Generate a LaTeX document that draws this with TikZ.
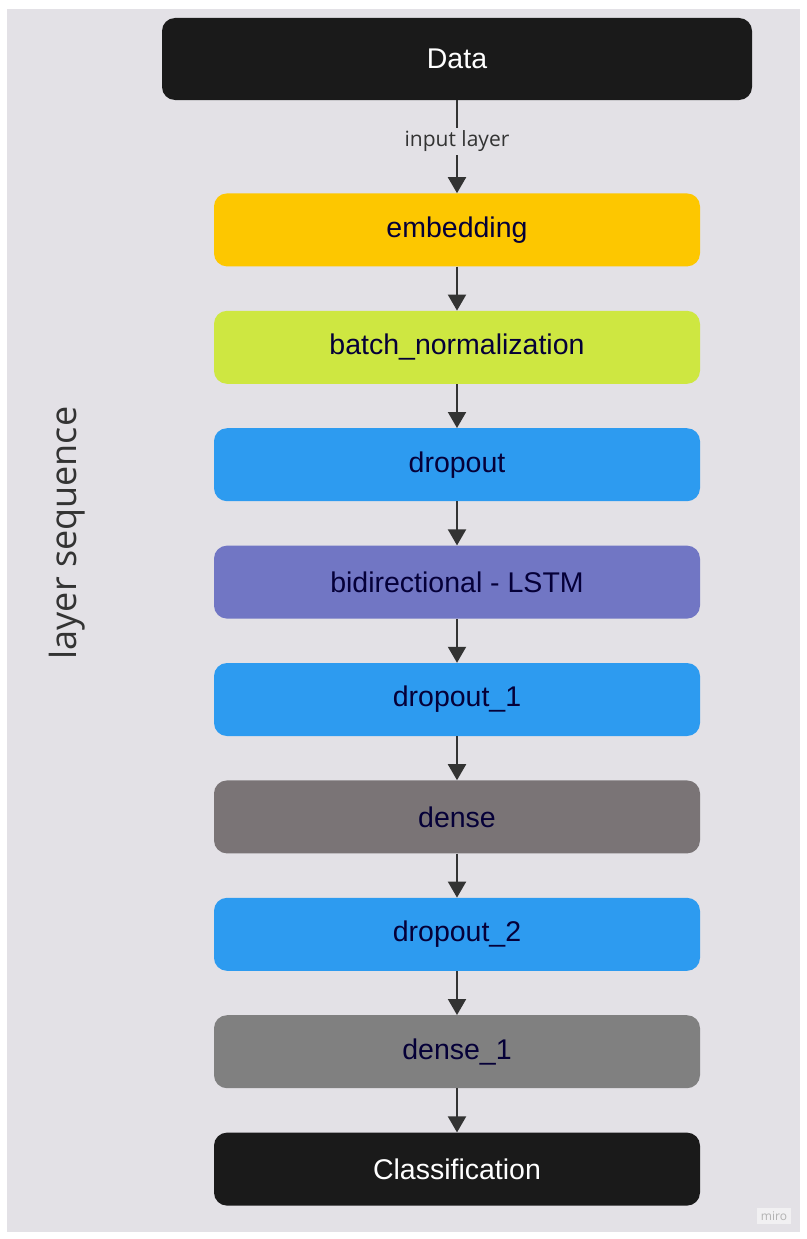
\documentclass[tikz,border=0pt]{standalone}
\usepackage{fontspec}
\setmainfont{Liberation Sans}
\newfontfamily\opensans{Open Sans}
\usetikzlibrary{shapes,arrows.meta,positioning}
\usepackage{xcolor}
\definecolor{boardgray}{RGB}{227,225,230}
\definecolor{nearblack}{RGB}{26,26,26}
\definecolor{layerink}{RGB}{5,0,56}
\definecolor{embedyellow}{RGB}{253,199,0}
\definecolor{batchlime}{RGB}{206,231,65}
\definecolor{dropblue}{RGB}{45,155,240}
\definecolor{lstmpurple}{RGB}{113,118,196}
\definecolor{densegray}{RGB}{122,116,118}
\definecolor{densegraytwo}{RGB}{128,128,128}
\definecolor{arrowgray}{RGB}{51,51,51}

\begin{document}
\begin{tikzpicture}[x=1pt, y=1pt, node distance=44pt,
    layer/.style={rectangle, rounded corners=13pt, minimum width=486pt, minimum height=73pt, text=layerink, font=\fontsize{28.5}{32}\selectfont},
    flow/.style={-{Triangle[width=18pt,length=16pt]}, line width=2pt, draw=arrowgray}]
    \useasboundingbox (0,0) rectangle (806,-1239);
    \fill[white] (0,0) rectangle (806,-1239);
    \fill[boardgray] (7,-9) rectangle (800,-1232);
    \node[rectangle, rounded corners=13pt, minimum width=590pt, minimum height=82pt, fill=nearblack, text=white, font=\fontsize{28.5}{32}\selectfont] (data) at (457,-59) {Data};
    \node[layer, fill=embedyellow, below=93pt of data] (embedding) {embedding};
    \node[layer, fill=batchlime, below=of embedding] (batchnorm) {batch\_normalization};
    \node[layer, fill=dropblue, below=of batchnorm] (dropout) {dropout};
    \node[layer, fill=lstmpurple, below=of dropout] (bilstm) {bidirectional - LSTM};
    \node[layer, fill=dropblue, below=of bilstm] (dropoutone) {dropout\_1};
    \node[layer, fill=densegray, below=of dropoutone] (dense) {dense};
    \node[layer, fill=dropblue, below=of dense] (dropouttwo) {dropout\_2};
    \node[layer, fill=densegraytwo, below=of dropouttwo] (denseone) {dense\_1};
    \node[layer, fill=nearblack, text=white, below=of denseone] (classif) {Classification};
    \draw[flow] (data) -- node[pos=0.44, fill=boardgray, inner sep=3pt, text=arrowgray, font=\opensans\fontsize{21}{24}\selectfont] {input layer} (embedding);
    \draw[flow] (embedding) -- (batchnorm);
    \draw[flow] (batchnorm) -- (dropout);
    \draw[flow] (dropout) -- (bilstm);
    \draw[flow] (bilstm) -- (dropoutone);
    \draw[flow] (dropoutone) -- (dense);
    \draw[flow] (dense) -- (dropouttwo);
    \draw[flow] (dropouttwo) -- (denseone);
    \draw[flow] (denseone) -- (classif);
    \node[rotate=90, text=arrowgray, font=\opensans\fontsize{36}{40}\selectfont] (seqlabel) at (67,-533) {layer sequence};
    \node[fill=white!50!boardgray, text=black!30, inner sep=4pt, font=\opensans\fontsize{12}{14}\selectfont] (watermark) at (774,-1216) {miro};
\end{tikzpicture}
\end{document}
